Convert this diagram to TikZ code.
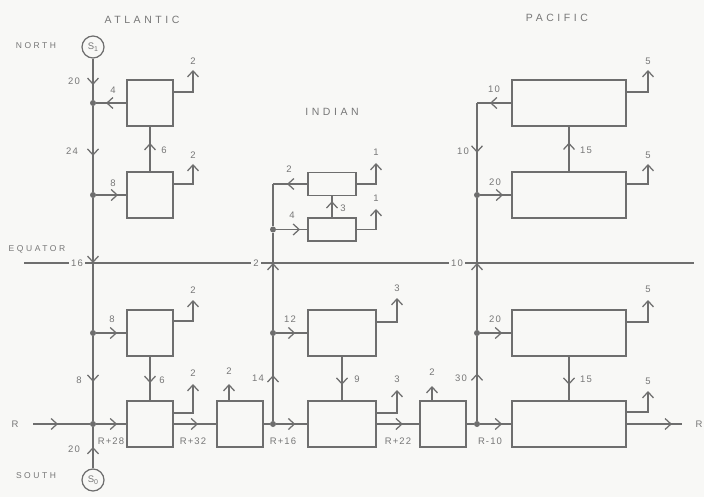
\documentclass[tikz,border=0pt]{standalone}
\usepackage{fontspec}
\setmainfont{Liberation Sans}[LetterSpace=12]
\newfontfamily\titlefont{Liberation Sans}[LetterSpace=34]
\newfontfamily\sidefont{Liberation Sans}[LetterSpace=30]
\usetikzlibrary{arrows.meta,decorations.markings}
\definecolor{lc}{HTML}{6E6E6E}
\definecolor{tc}{HTML}{777777}
\definecolor{bg}{HTML}{F8F8F6}
\tikzset{barb/.tip={Straight Barb[length=6pt,width=11pt]}}
\begin{document}
\begin{tikzpicture}[x=1pt,y=-1pt,
  ln/.style={draw=lc,line width=1.25pt},
  bx/.style={draw=lc,line width=1.25pt,inner sep=0pt,outer sep=0pt},
  dot/.style={circle,fill=lc,inner sep=0pt,minimum size=6pt},
  src/.style={circle,draw=lc,line width=1.25pt,inner sep=0pt,minimum size=22pt,text=tc,font=\fontsize{9.5}{10}\selectfont},
  lab/.style={text=tc,font=\fontsize{9.5}{10}\selectfont,inner sep=0.5pt},
  ttl/.style={text=tc,font=\titlefont\fontsize{10.5}{12}\selectfont,inner sep=0pt},
  side/.style={text=tc,font=\sidefont\fontsize{8.5}{10}\selectfont,inner sep=0pt},
  flow/.style={ln,postaction={decorate},decoration={markings,mark=at position #1 with {\arrow[lc,line width=1.25pt]{barb}}}},
  flowend/.style={ln,-barb},
  outarr/.style={ln,-barb}]
\useasboundingbox[fill=bg] (0,0) rectangle (704,497);

% titles
\node[ttl] (tA) at (142,20) {ATLANTIC};
\node[ttl] (tI) at (332,112) {INDIAN};
\node[ttl] (tP) at (557,18) {PACIFIC};
\node[side] (tN) at (36,46) {NORTH};
\node[side] (tS) at (36,476) {SOUTH};
\node[side] (tE) at (37,249) {EQUATOR};

% equator
\coordinate (eqL) at (24,263);
\coordinate (eqR) at (694,263);
\draw[ln] (eqL) -- (eqR);
\node[lab,fill=bg,inner sep=2pt] (q16) at (77,263) {16};
\node[lab,fill=bg,inner sep=2pt] (q2) at (256,263) {2};
\node[lab,fill=bg,inner sep=2pt] (q10) at (457,263) {10};

% sources
\node[src] (S1) at (93,47) {S\raisebox{-2pt}{\scriptsize 1}};
\node[src] (S0) at (93,480) {S\raisebox{-2pt}{\scriptsize 0}};

% boxes
\node[bx,minimum width=46pt,minimum height=46pt] (A1) at (150,103) {};
\node[bx,minimum width=46pt,minimum height=46pt] (A2) at (150,195) {};
\node[bx,minimum width=46pt,minimum height=46pt] (A3) at (150,333) {};
\node[bx,minimum width=46pt,minimum height=46pt] (A4) at (150,424) {};
\node[bx,minimum width=46pt,minimum height=46pt] (B) at (240,424) {};
\node[bx,minimum width=46pt,minimum height=46pt] (C) at (443,424) {};
\node[bx,minimum width=48pt,minimum height=23pt] (I2) at (332,184) {};
\node[bx,minimum width=48pt,minimum height=23pt] (I1) at (332,229.5) {};
\node[bx,minimum width=68pt,minimum height=46pt] (I3) at (342,333) {};
\node[bx,minimum width=68pt,minimum height=46pt] (I4) at (342,424) {};
\node[bx,minimum width=114pt,minimum height=46pt] (P1) at (569,103) {};
\node[bx,minimum width=114pt,minimum height=46pt] (P2) at (569,195) {};
\node[bx,minimum width=114pt,minimum height=46pt] (P3) at (569,333) {};
\node[bx,minimum width=114pt,minimum height=46pt] (P4) at (569,424) {};

% junction dots
\node[dot] (dA1) at (93,103) {};
\node[dot] (dA2) at (93,195) {};
\node[dot] (dA3) at (93,333) {};
\node[dot] (dA4) at (93,424) {};
\node[dot] (dI1) at (273,229.5) {};
\node[dot] (dI3) at (273,333) {};
\node[dot] (dI4) at (273,424) {};
\node[dot] (dP2) at (477,195) {};
\node[dot] (dP3) at (477,333) {};
\node[dot] (dP4) at (477,424) {};

% coordinates
\coordinate (eqA) at (93,263);
\coordinate (eqI) at (273,263);
\coordinate (eqP) at (477,263);
\coordinate (iTop) at (273,184);
\coordinate (pTop) at (477,103);
\coordinate (Rin) at (33,424);
\coordinate (Rout) at (682,424);
\coordinate (oA1) at (193,70);
\coordinate (oA2) at (193,164);
\coordinate (oA3) at (193,300);
\coordinate (oA4) at (193,384);
\coordinate (oB) at (229,384);
\coordinate (oI2) at (376,163);
\coordinate (oI1) at (376,209);
\coordinate (oI3) at (397,298);
\coordinate (oI4) at (397,390);
\coordinate (oC) at (432,386);
\coordinate (oP1) at (648,70);
\coordinate (oP2) at (648,164);
\coordinate (oP3) at (648,300);
\coordinate (oP4) at (648,391);

% Atlantic
\draw[flow=0.64] (S1) -- (dA1);
\draw[flow=0.58] (dA1) -- (dA2);
\draw[flowend] (dA2) -- (eqA);
\draw[ln] (eqA) -- (dA3);
\draw[flow=0.54] (dA3) -- (dA4);
\draw[flow=0.52] (S0) -- (dA4);
\draw[flow=0.68] (A1.west) -- (dA1);
\draw[flow=0.63] (A2.north) -- (A1.south);
\draw[flow=0.71] (dA2) -- (A2.west);
\draw[flow=0.68] (dA3) -- (A3.west);
\draw[flow=0.6] (A3.south) -- (A4.north);
\draw[flow=0.44] (Rin) -- (dA4);
\draw[flow=0.68] (dA4) -- (A4.west);
\draw[flow=0.57] (A4.east) -- (B.west);
\draw[outarr] ([yshift=-12pt]A1.north east) -| (oA1);
\draw[outarr] ([yshift=-12pt]A2.north east) -| (oA2);
\draw[outarr] ([yshift=-11pt]A3.north east) -| (oA3);
\draw[outarr] ([yshift=-12pt]A4.north east) -| (oA4);
\draw[outarr] (B.north -| oB) -- (oB);

% Indian
\draw[ln] (B.east) -- (dI4);
\draw[flow=0.6] (dI4) -- (I4.west);
\draw[flow=0.54] (dI4) -- (dI3);
\draw[flow=0.6] (dI3) -- (I3.west);
\draw[flowend] (dI3) -- (eqI);
\draw[ln] (eqI) -- (dI1);
\draw[ln] (dI1) -- (iTop);
\draw[flow=0.6] (I2.west) -- (iTop);
\draw[flow=0.75] (dI1) -- (I1.west);
\draw[flow=0.75] (I1.north) -- (I2.south);
\draw[flow=0.64] (I3.south) -- (I4.north);
\draw[flow=0.61] (I4.east) -- (C.west);
\draw[outarr] (I2.east) -| (oI2);
\draw[outarr] (I1.east) -| (oI1);
\draw[outarr] ([yshift=-12pt]I3.north east) -| (oI3);
\draw[outarr] ([yshift=-12pt]I4.north east) -| (oI4);
\draw[outarr] (C.north -| oC) -- (oC);

% Pacific
\draw[ln] (C.east) -- (dP4);
\draw[flow=0.56] (dP4) -- (dP3);
\draw[flow=0.69] (dP4) -- (P4.west);
\draw[flow=0.82] (P4.east) -- (Rout);
\draw[flow=0.69] (dP3) -- (P3.west);
\draw[flow=0.64] (P3.south) -- (P4.north);
\draw[flowend] (dP3) -- (eqP);
\draw[ln] (eqP) -- (dP2);
\draw[flow=0.72] (dP2) -- (P2.west);
\draw[flow=0.64] (P2.north) -- (P1.south);
\draw[flow=0.56] (pTop) -- (dP2);
\draw[flow=0.63] (P1.west) -- (pTop);
\draw[outarr] ([yshift=-12pt]P1.north east) -| (oP1);
\draw[outarr] ([yshift=-12pt]P2.north east) -| (oP2);
\draw[outarr] ([yshift=-12pt]P3.north east) -| (oP3);
\draw[outarr] ([yshift=-11pt]P4.north east) -| (oP4);

% labels
\node[lab] (lRin) at (15,424) {R};
\node[lab] (lRout) at (699,424) {R};
\node[lab] (l1) at (74,81) {20};
\node[lab] (l2) at (113,90) {4};
\node[lab] (l3) at (72,151) {24};
\node[lab] (l4) at (164,150) {6};
\node[lab] (l5) at (113,183) {8};
\node[lab] (l6) at (112,319) {8};
\node[lab] (l7) at (79,380) {8};
\node[lab] (l8) at (162,380) {6};
\node[lab] (l9) at (111,441) {R+28};
\node[lab] (l10) at (74,449) {20};
\node[lab] (l11) at (193,441) {R+32};
\node[lab] (o1) at (193,61) {2};
\node[lab] (o2) at (193,155) {2};
\node[lab] (o3) at (193,290) {2};
\node[lab] (o4) at (193,373) {2};
\node[lab] (o5) at (229,371) {2};
\node[lab] (l12) at (289,169) {2};
\node[lab] (l13) at (292,215) {4};
\node[lab] (l14) at (343,208) {3};
\node[lab] (o6) at (376,152) {1};
\node[lab] (o7) at (376,198) {1};
\node[lab] (l15) at (290,319) {12};
\node[lab] (l16) at (258,378) {14};
\node[lab] (l17) at (357,379) {9};
\node[lab] (l18) at (283,441) {R+16};
\node[lab] (l19) at (398,441) {R+22};
\node[lab] (o8) at (397,288) {3};
\node[lab] (o9) at (397,379) {3};
\node[lab] (o10) at (432,372) {2};
\node[lab] (l20) at (494,89) {10};
\node[lab] (l21) at (463,151) {10};
\node[lab] (l22) at (586,150) {15};
\node[lab] (l23) at (495,182) {20};
\node[lab] (l24) at (495,319) {20};
\node[lab] (l25) at (586,379) {15};
\node[lab] (l26) at (461,378) {30};
\node[lab] (l27) at (490,441) {R-10};
\node[lab] (o11) at (648,61) {5};
\node[lab] (o12) at (648,155) {5};
\node[lab] (o13) at (648,289) {5};
\node[lab] (o14) at (648,381) {5};
\end{tikzpicture}
\end{document}
